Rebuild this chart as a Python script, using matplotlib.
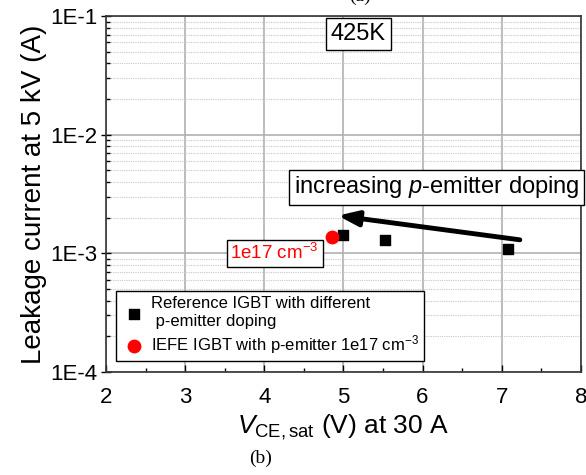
import matplotlib.pyplot as plt
from matplotlib.ticker import LogLocator, FixedLocator, MultipleLocator, FuncFormatter

plt.rcParams['font.family'] = ['Liberation Sans', 'DejaVu Sans']
plt.rcParams['mathtext.fontset'] = 'custom'
plt.rcParams['mathtext.rm'] = 'Liberation Sans'
plt.rcParams['mathtext.it'] = 'Liberation Sans:italic'

# Reference IGBT, different p-emitter doping
ref_vce = [5.0, 5.52, 7.08]
ref_leak = [1.43e-3, 1.29e-3, 1.09e-3]
# IEFE IGBT with p-emitter 1e17 cm^-3
iefe_vce = [4.85]
iefe_leak = [1.38e-3]

y_ticks = [1e-4, 1e-3, 1e-2, 1e-1]
y_labels = ['1E-4', '1E-3', '1E-2', '1E-1']
x_ticks = [2, 3, 4, 5, 6, 7, 8]

fig = plt.figure(figsize=(5.86, 4.75), dpi=100)
ax = fig.add_axes([0.181, 0.217, 0.810, 0.749])

ax.set_yscale('log')
ax.set_xlim(2, 8)
ax.set_ylim(1e-4, 1e-1)

ax.yaxis.set_major_locator(FixedLocator(y_ticks))
ax.yaxis.set_major_formatter(FuncFormatter(lambda v, p: y_labels[y_ticks.index(min(y_ticks, key=lambda t: abs(t - v)))]))
ax.yaxis.set_minor_locator(LogLocator(base=10, subs=range(2, 10)))
ax.xaxis.set_major_locator(FixedLocator(x_ticks))
ax.xaxis.set_minor_locator(MultipleLocator(0.5))

ax.grid(True, which='major', color='#b0b0b0', lw=1.2, ls='-')
ax.grid(True, which='minor', axis='y', color='#c8c8c8', lw=0.8, ls=(0, (1, 1)))
ax.set_axisbelow(True)

ax.tick_params(which='major', direction='inout', length=7, width=1, labelsize=16)
ax.tick_params(which='minor', direction='in', length=3, width=1)
ax.tick_params(axis='x', which='major', direction='in', length=5, pad=11)
ax.tick_params(axis='y', which='major', pad=3)
for s in ax.spines.values():
    s.set_linewidth(1.2)
    s.set_color('#333333')

ax.scatter(ref_vce, ref_leak, marker='s', s=55, color='black', zorder=5,
           label='Reference IGBT with different\n p-emitter doping')
ax.scatter(iefe_vce, iefe_leak, marker='o', s=80, color='#ff0000', zorder=6,
           label='IEFE IGBT with p-emitter 1e17 cm$^{-3}$')

ax.set_xlabel(r'$V_{\mathrm{CE,sat}}$ (V) at 30 A', fontsize=19, labelpad=3)
ax.set_ylabel('Leakage current at 5 kV (A)', fontsize=20, labelpad=2)

box = dict(boxstyle='square,pad=0.2', fc='white', ec='black', lw=1)
ax.text(5.19, 0.0705, '425K', fontsize=17, ha='center', va='center', bbox=box)
ax.text(6.18, 3.6e-3, 'increasing $\\it{p}$-emitter doping', fontsize=17,
        ha='center', va='center', bbox=box, zorder=7)
ax.text(4.13, 1.0e-3, '1e17 cm$^{-3}$', fontsize=13.5, color='#ff0000',
        ha='center', va='center', bbox=box, zorder=7)

ax.annotate('', xy=(4.93, 2.08e-3), xytext=(7.23, 1.30e-3),
            arrowprops=dict(arrowstyle='-|>,head_length=1.2,head_width=0.45',
                            color='black', lw=3.5, shrinkA=0, shrinkB=0), zorder=7)

leg = ax.legend(loc='lower left', bbox_to_anchor=(0.021, 0.031), borderaxespad=0,
                fontsize=12, frameon=True, fancybox=False, edgecolor='black',
                framealpha=1, handletextpad=0.3, borderpad=0.3, labelspacing=0.25,
                handlelength=1.5, markerscale=1.0)
leg.get_frame().set_linewidth(1)

fig.text(0.444, 0.036, '(b)', fontsize=14, family='Liberation Serif', ha='center', va='center')
fig.text(0.615, 1.008, '(a)', fontsize=14, family='Liberation Serif', ha='center', va='center')

fig.savefig('out.png', dpi=100)
